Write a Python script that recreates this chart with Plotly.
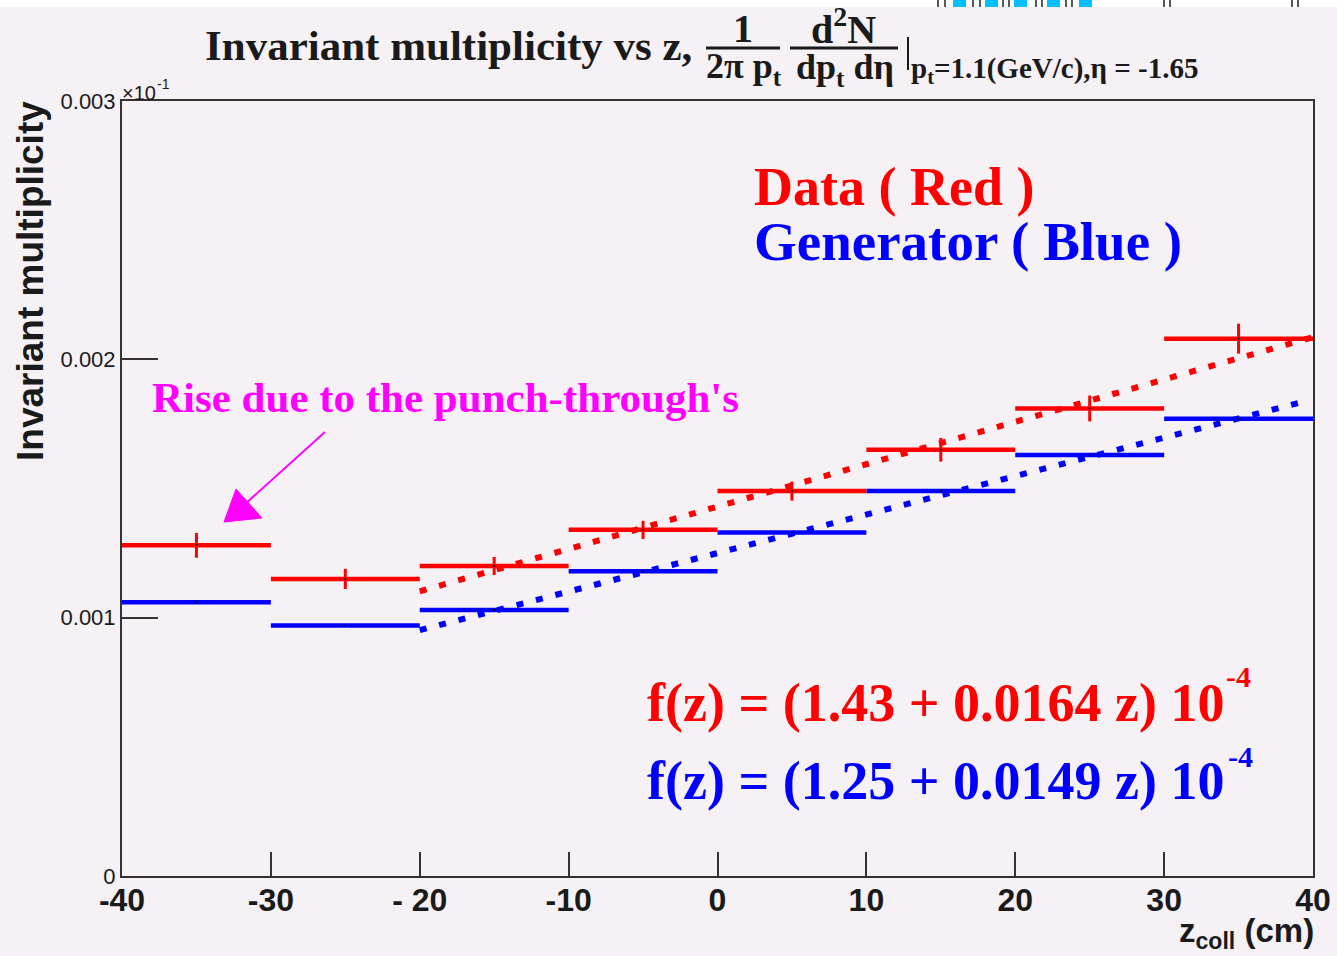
import plotly.graph_objects as go

# ---- data (multiplicity in units of 1e-4) ----
bin_edges = [-40, -30, -20, -10, 0, 10, 20, 30, 40]
data_red = [1.28, 1.15, 1.20, 1.34, 1.49, 1.65, 1.81, 2.08]
data_red_err = [0.048, 0.039, 0.035, 0.035, 0.037, 0.046, 0.050, 0.058]
gen_blue = [1.06, 0.97, 1.03, 1.18, 1.33, 1.49, 1.63, 1.77]

# linear fits f(z) = (a + b z) 1e-4
fit_red = (1.43, 0.0164)
fit_blue = (1.25, 0.0149)
fit_red_range = [-20, 40]
fit_blue_range = [-20, 39]

y_tickvals = [0, 1, 2, 3]
y_ticktext = ["0", "0.001", "0.002", "0.003"]
x_tickvals = [-40, -30, -20, -10, 0, 10, 20, 30, 40]
x_ticktext = ["-40", "-30", "- 20", "-10", "0", "10", "20", "30", "40"]

# ---- page geometry ----
W, H = 1337, 956
L, R, T, B = 122, 1313, 101, 876
BG = "#f5f1f5"
SERIF = "Liberation Serif"
SANS = "Liberation Sans"


def px(xp):
    return (xp - L) / (R - L)


def py(yp):
    return (B - yp) / (B - T)


def to_dx(xp):
    return -40 + (xp - L) / (R - L) * 80


def to_dy(yp):
    return (B - yp) / (B - T) * 3


def bin_segments(values):
    xs, ys = [], []
    for lo, hi, v in zip(bin_edges[:-1], bin_edges[1:], values):
        xs += [lo, hi, None]
        ys += [v, v, None]
    return xs, ys


centers = [(lo + hi) / 2 for lo, hi in zip(bin_edges[:-1], bin_edges[1:])]

fig = go.Figure()

bx, by = bin_segments(gen_blue)
fig.add_trace(go.Scatter(x=bx, y=by, mode="lines",
                         line=dict(color="#0000ff", width=4.5), hoverinfo="skip"))
rx, ry = bin_segments(data_red)
fig.add_trace(go.Scatter(x=rx, y=ry, mode="lines",
                         line=dict(color="#ff0000", width=4.5), hoverinfo="skip"))

# fitted lines (dotted)
for (a, b), rng, col in [(fit_red, fit_red_range, "#ff0000"),
                         (fit_blue, fit_blue_range, "#0000ff")]:
    fig.add_trace(go.Scatter(
        x=rng, y=[a + b * z for z in rng], mode="lines",
        line=dict(color=col, width=6, dash="7px,13px"), hoverinfo="skip"))

# error bars on data points
fig.add_trace(go.Scatter(
    x=centers, y=data_red, mode="markers",
    marker=dict(color="#000000", size=2),
    error_y=dict(type="data", array=data_red_err, color="#ff0000",
                 thickness=3, width=0)))
fig.add_trace(go.Scatter(
    x=centers, y=gen_blue, mode="markers",
    marker=dict(color="#000000", size=2)))

ann = []


def text(t, x, y, size, color="#1a1a1a", font=SERIF, bold=True,
         xanchor="left", yanchor="middle", angle=0):
    ann.append(dict(text=t, x=px(x), y=py(y), xref="paper", yref="paper",
                    xanchor=xanchor, yanchor=yanchor, showarrow=False,
                    textangle=angle,
                    font=dict(family=font, size=size, color=color,
                              weight=700 if bold else 400)))


# title
text("Invariant multiplicity vs z,", 203, 46, 43)
text("1", 743, 29, 40, xanchor="center")
text("2π p<sub>t</sub>", 744, 68, 36, xanchor="center")
text("d<sup>2</sup>N", 843, 26, 40, xanchor="center")
text("dp<sub>t</sub> dη", 845, 70, 36, xanchor="center")
text("p<sub>t</sub>=1.1(GeV/c),η = -1.65", 909, 70, 29)

# legend-like labels
text("Data ( Red )", 752, 187, 54, color="#ff0000")
text("Generator ( Blue )", 752, 241, 55, color="#0000ff")
text("Rise due to the punch-through's", 150, 397, 43, color="#ff00ff")

# fit results
text("f(z) = (1.43 + 0.0164 z) 10", 645, 703, 54, color="#ff0000")
text("-4", 1224, 676, 30, color="#ff0000")
text("f(z) = (1.25 + 0.0149 z) 10", 645, 781, 54, color="#0000ff")
text("-4", 1226, 756, 30, color="#0000ff")

# axis titles
text("Invariant multiplicity", 30, 281, 37, font=SANS, angle=-90,
     xanchor="center")
text("z<sub>coll</sub> (cm)", 1316, 933, 33, font=SANS, xanchor="right")
text("×10", 120, 93, 20, font=SANS, bold=False)
text("-1", 155, 84, 14, font=SANS, bold=False)

shapes = [
    # fraction bars and evaluation bar
    dict(type="line", xref="paper", yref="paper", x0=px(706), x1=px(780),
         y0=py(48), y1=py(48), line=dict(color="#1a1a1a", width=3)),
    dict(type="line", xref="paper", yref="paper", x0=px(790), x1=px(898),
         y0=py(48), y1=py(48), line=dict(color="#1a1a1a", width=3)),
    dict(type="line", xref="paper", yref="paper", x0=px(908), x1=px(908),
         y0=py(37), y1=py(70), line=dict(color="#1a1a1a", width=2)),
    # arrow pointing to the first bin
    dict(type="line", xref="x", yref="y", x0=to_dx(325), y0=to_dy(432),
         x1=to_dx(244), y1=to_dy(505), line=dict(color="#ff00ff", width=2)),
    dict(type="path", xref="x", yref="y",
         path=f"M {to_dx(224)} {to_dy(522)} L {to_dx(236)} {to_dy(489)} "
              f"L {to_dx(262)} {to_dy(518)} Z",
         fillcolor="#ff00ff", line=dict(color="#ff00ff", width=1)),
    # white strip along the top edge
    dict(type="rect", xref="paper", yref="paper", x0=px(0), x1=px(W),
         y0=py(7), y1=py(-2), fillcolor="#ffffff", line=dict(width=0),
         layer="below"),
]
for x0 in [953, 985, 1014, 1047, 1079]:
    shapes.append(dict(type="rect", xref="paper", yref="paper",
                       x0=px(x0), x1=px(x0 + 13), y0=py(7), y1=py(0),
                       fillcolor="#00bfff", line=dict(width=0)))
for x0 in [938, 945, 973, 980, 1003, 1009, 1036, 1042, 1066, 1072,
           1164, 1170, 1292, 1298]:
    shapes.append(dict(type="line", xref="paper", yref="paper",
                       x0=px(x0), x1=px(x0), y0=py(7), y1=py(0),
                       line=dict(color="#222222", width=1.5)))

fig.update_layout(
    width=W, height=H,
    margin=dict(l=L, r=W - R, t=T, b=H - B, pad=0),
    paper_bgcolor=BG, plot_bgcolor=BG,
    showlegend=False,
    annotations=ann, shapes=shapes,
    xaxis=dict(range=[-40, 40], tickvals=x_tickvals, ticktext=x_ticktext,
               ticks="inside", ticklen=24, tickwidth=2, tickcolor="#333333",
               showline=True, mirror=True, linecolor="#333333", linewidth=2,
               showgrid=False, zeroline=False, automargin=False,
               ticklabelstandoff=-5,
               tickfont=dict(family=SANS, size=32, color="#1a1a1a",
                             weight=700)),
    yaxis=dict(range=[0, 3], tickvals=y_tickvals, ticktext=y_ticktext,
               ticks="inside", ticklen=36, tickwidth=2, tickcolor="#333333",
               showline=True, mirror=True, linecolor="#333333", linewidth=2,
               showgrid=False, zeroline=False, automargin=False,
               tickfont=dict(family=SANS, size=22, color="#1a1a1a")),
)

fig.write_html("out.html")
